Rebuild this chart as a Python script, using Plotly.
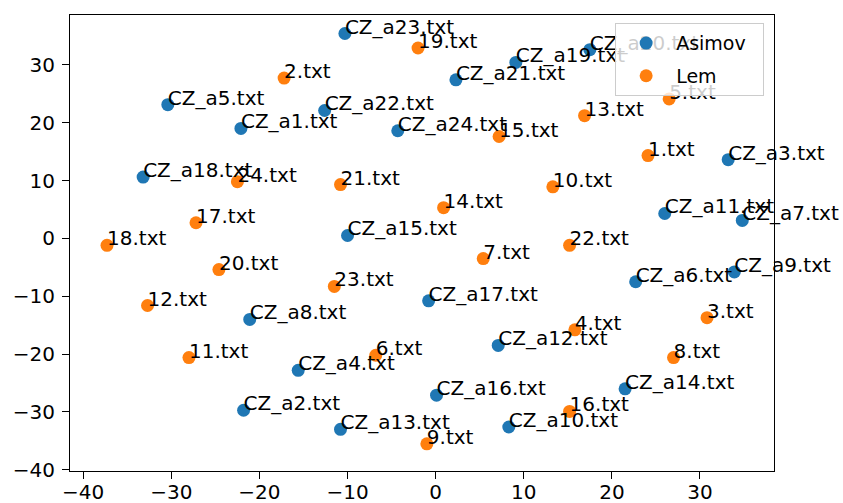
import plotly.graph_objects as go

# 2-D projection of the two authors' text files
asimov_labels = [f"CZ_a{i}.txt" for i in range(1, 25)]
asimov_x = [-22.1, -21.8, 33.2, -15.6, -30.4, 22.7, 34.8, -21.1, 33.9, 8.3, 26.0, 7.1,
            -10.8, 21.5, -10.0, 0.1, -0.8, -33.2, 9.1, 17.5, 2.3, -12.6, -10.3, -4.3]
asimov_y = [19.0, -29.7, 13.6, -22.8, 23.1, -7.5, 3.1, -14.0, -5.8, -32.6, 4.3, -18.5,
            -33.0, -26.0, 0.5, -27.1, -10.8, 10.6, 30.4, 32.6, 27.4, 22.1, 35.4, 18.6]

lem_labels = [f"{i}.txt" for i in range(1, 25)]
lem_x = [24.1, -17.2, 30.8, 15.8, 26.5, -6.8, 5.4, 27.0, -1.0, 13.3, -28.0, -32.7,
         16.9, 0.9, 7.2, 15.2, -27.2, -37.3, -2.0, -24.6, -10.8, 15.2, -11.5, -22.5]
lem_y = [14.3, 27.7, -13.7, -15.8, 24.1, -20.2, -3.5, -20.6, -35.5, 8.9, -20.6, -11.6,
         21.2, 5.3, 17.6, -29.9, 2.7, -1.2, 32.9, -5.4, 9.3, -1.2, -8.3, 9.8]

tick_vals = [-40, -30, -20, -10, 0, 10, 20, 30]

BLUE = "#1f77b4"
ORANGE = "#ff7f0e"
FONT = "DejaVu Sans"
LABEL_FS = 20
TICK_FS = 20
LEGEND_FS = 19

W, H = 843, 503
MARGIN = dict(l=70, r=69, t=15, b=32)
X_RANGE = [-41.5, 38.4]
Y_RANGE = [-40.2, 38.6]

# Plotly puts "top right" text with its baseline a quarter of the font size
# above the point; a hidden twin y-axis shifted by that amount puts the
# baseline on the point itself, annotate-style.
plot_h = H - MARGIN["t"] - MARGIN["b"]
units_per_px = (Y_RANGE[1] - Y_RANGE[0]) / plot_h
shift = 0.25 * LABEL_FS * units_per_px
Y2_RANGE = [Y_RANGE[0] + shift, Y_RANGE[1] + shift]

fig = go.Figure()

fig.add_trace(go.Scatter(x=asimov_x, y=asimov_y, mode="markers", name="Asimov\u00a0\u00a0",
                         legendgroup="a",
                         marker=dict(color=BLUE, size=13, line=dict(width=0))))
fig.add_trace(go.Scatter(x=lem_x, y=lem_y, mode="markers", name="Lem",
                         legendgroup="l",
                         marker=dict(color=ORANGE, size=13, line=dict(width=0))))

# file-name labels written at each point
for xs, ys, labels in [(asimov_x, asimov_y, asimov_labels), (lem_x, lem_y, lem_labels)]:
    fig.add_trace(go.Scatter(x=xs, y=ys, text=labels, mode="text", yaxis="y2",
                             textposition="top right", showlegend=False,
                             cliponaxis=False, hoverinfo="skip",
                             textfont=dict(family=FONT, size=LABEL_FS, color="black")))

axis_common = dict(
    showgrid=False, zeroline=False, showline=True, mirror=True, automargin=False,
    linecolor="black", linewidth=1.2,
    ticks="outside", ticklen=7, tickwidth=1.2, tickcolor="black",
    tickvals=tick_vals, tickfont=dict(family=FONT, size=TICK_FS, color="black"),
)

fig.update_layout(
    width=W, height=H,
    margin=MARGIN,
    plot_bgcolor="white", paper_bgcolor="white",
    font=dict(family=FONT, size=TICK_FS, color="black"),
    xaxis=dict(range=X_RANGE, ticklabelstandoff=-4, **axis_common),
    yaxis=dict(range=Y_RANGE, ticklabelstandoff=3, **axis_common),
    yaxis2=dict(range=Y2_RANGE, overlaying="y", visible=False, automargin=False),
    legend=dict(x=0.986, y=0.982, xanchor="right", yanchor="top",
                bgcolor="rgba(255,255,255,0.8)", bordercolor="#cccccc",
                borderwidth=1, tracegroupgap=5, itemwidth=50,
                font=dict(family=FONT, size=LEGEND_FS, color="black")),
)

fig.write_html("out.html")
